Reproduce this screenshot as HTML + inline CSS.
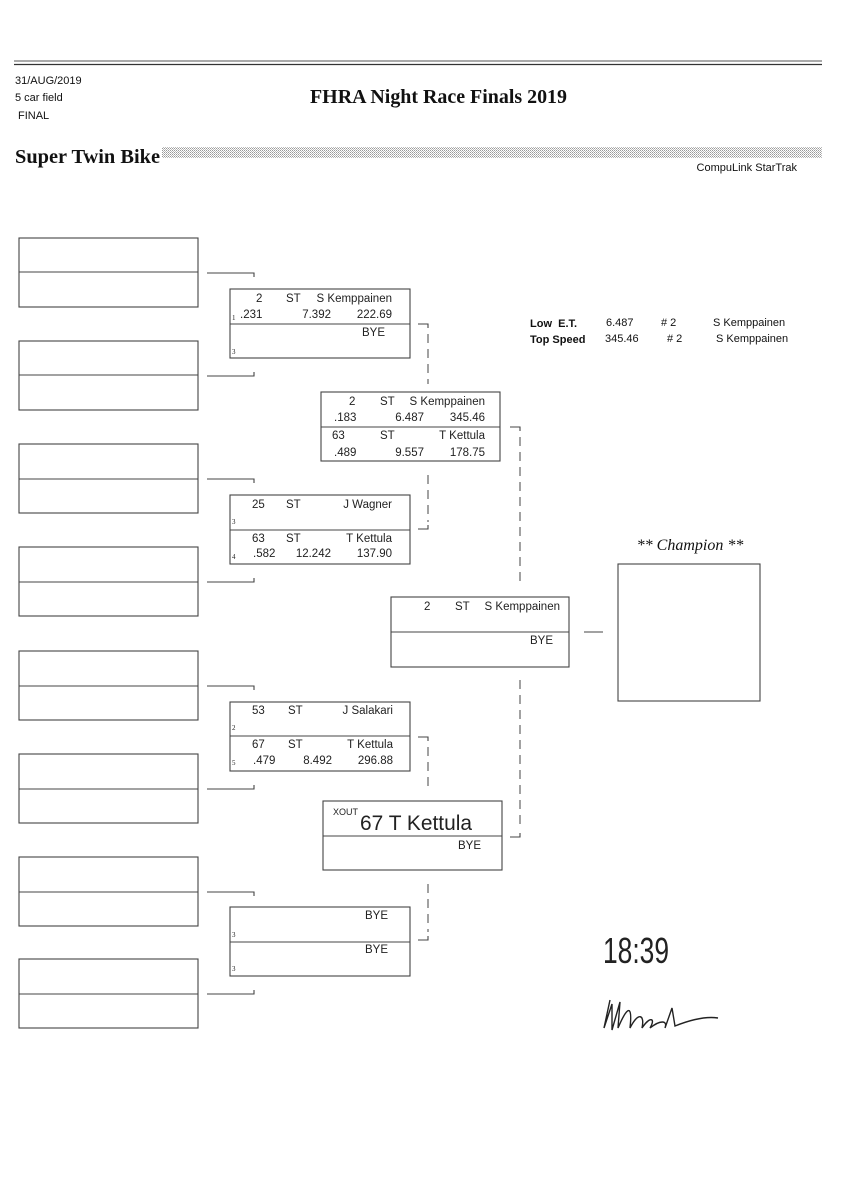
<!DOCTYPE html>
<html><head><meta charset="utf-8"><style>
html,body{margin:0;padding:0;background:#fff;}
svg{display:block;}
.d{font-family:"Liberation Sans Narrow","Liberation Sans",sans-serif;font-size:11.5px;fill:#222;}
.s{font-family:"Liberation Serif",serif;font-size:7px;fill:#222;}
.h{font-family:"Liberation Sans Narrow","Liberation Sans",sans-serif;font-size:11px;fill:#111;}
</style></head><body>
<svg width="848" height="1200" viewBox="0 0 848 1200" xmlns="http://www.w3.org/2000/svg">
<defs><pattern id="dots" width="2" height="2" patternUnits="userSpaceOnUse"><rect width="1" height="1" fill="#999"/><rect x="1" y="1" width="1" height="1" fill="#bbb"/></pattern></defs>
<line x1="14" y1="61" x2="822" y2="61" stroke="#555" stroke-width="1"/>
<line x1="14" y1="64.5" x2="822" y2="64.5" stroke="#333" stroke-width="1.3"/>
<text x="15" y="84" class="h">31/AUG/2019</text>
<text x="15" y="101" class="h">5 car field</text>
<text x="18" y="119" class="h">FINAL</text>
<text x="310" y="103" font-family="Liberation Serif,serif" font-weight="bold" font-size="20" fill="#111" textLength="257" lengthAdjust="spacingAndGlyphs">FHRA Night Race Finals 2019</text>
<text x="15" y="163" font-family="Liberation Serif,serif" font-weight="bold" font-size="20" fill="#111" textLength="145" lengthAdjust="spacingAndGlyphs">Super Twin Bike</text>
<rect x="162" y="147" width="660" height="11" fill="url(#dots)"/>
<text x="797" y="171" text-anchor="end" class="h">CompuLink StarTrak</text>

<g fill="none" stroke="#444" stroke-width="1.1">
<rect x="19" y="238" width="179" height="69"/><line x1="19" y1="272" x2="198" y2="272"/>
<rect x="19" y="341" width="179" height="69"/><line x1="19" y1="375" x2="198" y2="375"/>
<rect x="19" y="444" width="179" height="69"/><line x1="19" y1="479" x2="198" y2="479"/>
<rect x="19" y="547" width="179" height="69"/><line x1="19" y1="582" x2="198" y2="582"/>
<rect x="19" y="651" width="179" height="69"/><line x1="19" y1="686" x2="198" y2="686"/>
<rect x="19" y="754" width="179" height="69"/><line x1="19" y1="789" x2="198" y2="789"/>
<rect x="19" y="857" width="179" height="69"/><line x1="19" y1="892" x2="198" y2="892"/>
<rect x="19" y="959" width="179" height="69"/><line x1="19" y1="994" x2="198" y2="994"/>
<path d="M207 273H254V277M207 376H254V372"/>
<path d="M207 479H254V483M207 582H254V578"/>
<path d="M207 686H254V690M207 789H254V785"/>
<path d="M207 892H254V896M207 994H254V990"/>
<rect x="230" y="289" width="180" height="69"/><line x1="230" y1="324" x2="410" y2="324"/>
<rect x="230" y="495" width="180" height="69"/><line x1="230" y1="530" x2="410" y2="530"/>
<rect x="230" y="702" width="180" height="69"/><line x1="230" y1="736" x2="410" y2="736"/>
<rect x="230" y="907" width="180" height="69"/><line x1="230" y1="942" x2="410" y2="942"/>
<rect x="321" y="392" width="179" height="69"/><line x1="321" y1="427" x2="500" y2="427"/>
<rect x="323" y="801" width="179" height="69"/><line x1="323" y1="836" x2="502" y2="836"/>
<rect x="391" y="597" width="178" height="70"/><line x1="391" y1="632" x2="569" y2="632"/>
<rect x="618" y="564" width="142" height="137"/>
<line x1="584" y1="632" x2="603" y2="632"/>
<path d="M418 324H428V328M418 529H428V525M510 427H520V431M510 837H520V833M418 737H428V741M418 940H428V936"/>
</g>
<g fill="none" stroke="#444" stroke-width="1" stroke-dasharray="9,6">
<line x1="428" y1="334" x2="428" y2="384"/>
<line x1="428" y1="475" x2="428" y2="522"/>
<line x1="520" y1="437" x2="520" y2="587"/>
<line x1="520" y1="680" x2="520" y2="830"/>
<line x1="428" y1="747" x2="428" y2="792"/>
<line x1="428" y1="884" x2="428" y2="932"/>
</g>

<text x="256" y="302" class="d">2</text><text x="286" y="302" class="d">ST</text><text x="392" y="302" class="d" text-anchor="end">S Kemppainen</text>
<text x="232" y="320" class="s">1</text><text x="240" y="318" class="d">.231</text><text x="331" y="318" class="d" text-anchor="end">7.392</text><text x="392" y="318" class="d" text-anchor="end">222.69</text>
<text x="385" y="336" class="d" text-anchor="end">BYE</text><text x="232" y="354" class="s">3</text>
<text x="252" y="508" class="d">25</text><text x="286" y="508" class="d">ST</text><text x="392" y="508" class="d" text-anchor="end">J Wagner</text>
<text x="232" y="524" class="s">3</text>
<text x="252" y="542" class="d">63</text><text x="286" y="542" class="d">ST</text><text x="392" y="542" class="d" text-anchor="end">T Kettula</text>
<text x="232" y="559" class="s">4</text><text x="253" y="557" class="d">.582</text><text x="331" y="557" class="d" text-anchor="end">12.242</text><text x="392" y="557" class="d" text-anchor="end">137.90</text>
<text x="252" y="714" class="d">53</text><text x="288" y="714" class="d">ST</text><text x="393" y="714" class="d" text-anchor="end">J Salakari</text>
<text x="232" y="730" class="s">2</text>
<text x="252" y="748" class="d">67</text><text x="288" y="748" class="d">ST</text><text x="393" y="748" class="d" text-anchor="end">T Kettula</text>
<text x="232" y="765" class="s">5</text><text x="253" y="764" class="d">.479</text><text x="332" y="764" class="d" text-anchor="end">8.492</text><text x="393" y="764" class="d" text-anchor="end">296.88</text>
<text x="388" y="919" class="d" text-anchor="end">BYE</text><text x="232" y="937" class="s">3</text>
<text x="388" y="953" class="d" text-anchor="end">BYE</text><text x="232" y="971" class="s">3</text>
<text x="349" y="405" class="d">2</text><text x="380" y="405" class="d">ST</text><text x="485" y="405" class="d" text-anchor="end">S Kemppainen</text>
<text x="334" y="421" class="d">.183</text><text x="424" y="421" class="d" text-anchor="end">6.487</text><text x="485" y="421" class="d" text-anchor="end">345.46</text>
<text x="332" y="439" class="d">63</text><text x="380" y="439" class="d">ST</text><text x="485" y="439" class="d" text-anchor="end">T Kettula</text>
<text x="334" y="456" class="d">.489</text><text x="424" y="456" class="d" text-anchor="end">9.557</text><text x="485" y="456" class="d" text-anchor="end">178.75</text>
<text x="333" y="815" font-family="Liberation Sans Narrow,Liberation Sans,sans-serif" font-size="9" fill="#222">XOUT</text>
<text x="360" y="830" font-family="Liberation Sans Narrow,Liberation Sans,sans-serif" font-size="21" fill="#222" textLength="112" lengthAdjust="spacingAndGlyphs">67 T Kettula</text>
<text x="481" y="849" class="d" text-anchor="end">BYE</text>
<text x="424" y="610" class="d">2</text><text x="455" y="610" class="d">ST</text><text x="560" y="610" class="d" text-anchor="end">S Kemppainen</text>
<text x="553" y="644" class="d" text-anchor="end">BYE</text>
<text x="690" y="550" text-anchor="middle" font-family="Liberation Serif,serif" font-style="italic" font-size="16" fill="#111">** Champion **</text>
<g font-family="Liberation Sans Narrow,Liberation Sans,sans-serif" font-size="11" fill="#111">
<text x="530" y="327" font-weight="bold">Low&#160;&#160;E.T.</text><text x="606" y="326">6.487</text><text x="661" y="326"># 2</text><text x="713" y="326">S Kemppainen</text>
<text x="530" y="343" font-weight="bold">Top Speed</text><text x="605" y="342">345.46</text><text x="667" y="342"># 2</text><text x="716" y="342">S Kemppainen</text>
</g>
<text x="603" y="963" font-family="Liberation Sans Narrow,Liberation Sans,sans-serif" font-size="36" fill="#222" textLength="66" lengthAdjust="spacingAndGlyphs">18:39</text>
<path d="M610 1000 L604 1028 L612 1004 L612 1030 L620 1002 L618 1028 C630 1000 632 1010 630 1028 C638 1012 645 1014 642 1028 C650 1016 656 1018 650 1028 C660 1020 668 1020 665 1028 L672 1008 L675 1026 C690 1020 705 1016 718 1018" fill="none" stroke="#222" stroke-width="1.4"/>
</svg>
</body></html>
